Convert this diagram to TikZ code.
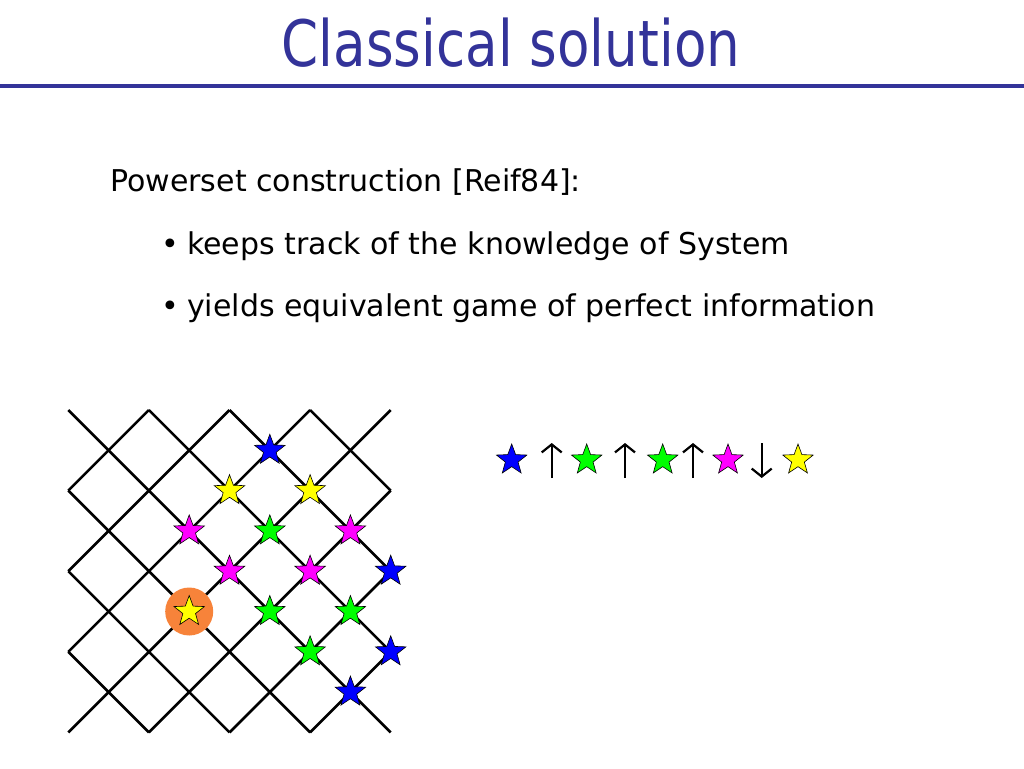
\documentclass[tikz,border=0pt]{standalone}
\usepackage{fontspec}
\setmainfont{DejaVu Sans}
\newfontfamily\titlefont{DejaVu Sans}[FakeStretch=0.83]
\usetikzlibrary{shapes.geometric,arrows.meta}
\definecolor{titleblue}{RGB}{51,51,153}
\definecolor{sblue}{RGB}{0,0,255}
\definecolor{sgreen}{RGB}{0,255,0}
\definecolor{smag}{RGB}{255,0,255}
\definecolor{syellow}{RGB}{255,255,0}
\definecolor{sorange}{RGB}{247,131,58}
\tikzset{
  starfive/.style={star, star points=5, star point ratio=2.4, minimum size=32pt,
    inner sep=0pt, draw=black, line width=0.6pt},
  gridline/.style={line width=2.6pt, black},
  seqarrow/.style={line width=2.2pt, -{Straight Barb[length=8pt,width=20pt]}},
  bodytext/.style={anchor=base west, inner sep=0pt, font=\fontsize{30}{36}\selectfont},
}
\begin{document}
\begin{tikzpicture}[x=1pt,y=-1pt]
\useasboundingbox (0,0) rectangle (1024,768);
\fill[white] (0,0) rectangle (1024,768);
% title
\node[anchor=base, inner sep=0pt, text=titleblue, font=\titlefont\fontsize{64}{70}\selectfont] (title) at (511,66.7) {Classical solution};
\coordinate (ruleL) at (0,85.8);
\coordinate (ruleR) at (1024,85.8);
\draw[titleblue, line width=4pt] (ruleL) -- (ruleR);
% body text
\node[bodytext] (t1) at (110,191.7) {Powerset construction [Reif84]:};
\node[bodytext] (b1) at (161,254) {•};
\node[bodytext] (t2) at (187,254) {keeps track of the knowledge of System};
\node[bodytext] (b2) at (161,316) {•};
\node[bodytext] (t3) at (187,316) {yields equivalent game of perfect information};
% grid
\begin{scope}[xshift=68.3pt, yshift=-410pt, x=40.3pt, y=-40.3pt]
  \foreach \c in {-6,-4,...,6} {
    \pgfmathsetmacro{\xa}{max(0,\c)}
    \pgfmathsetmacro{\ya}{max(0,-\c)}
    \pgfmathsetmacro{\xb}{min(8,8+\c)}
    \pgfmathsetmacro{\yb}{min(8,8-\c)}
    \draw[gridline] (\xa,\ya) -- (\xb,\yb);
  }
  \foreach \d in {2,4,...,14} {
    \pgfmathsetmacro{\xa}{max(0,\d-8)}
    \pgfmathsetmacro{\ya}{min(8,\d)}
    \pgfmathsetmacro{\xb}{min(8,\d)}
    \pgfmathsetmacro{\yb}{max(0,\d-8)}
    \draw[gridline] (\xa,\ya) -- (\xb,\yb);
  }
  \node[circle, fill=sorange, minimum size=48pt, inner sep=0pt] (cur) at (3,5) {};
  \node[starfive, fill=sblue] (g51) at (5,1) {};
  \node[starfive, fill=syellow] (g42) at (4,2) {};
  \node[starfive, fill=syellow] (g62) at (6,2) {};
  \node[starfive, fill=smag] (g33) at (3,3) {};
  \node[starfive, fill=sgreen] (g53) at (5,3) {};
  \node[starfive, fill=smag] (g73) at (7,3) {};
  \node[starfive, fill=smag] (g44) at (4,4) {};
  \node[starfive, fill=smag] (g64) at (6,4) {};
  \node[starfive, fill=sblue] (g84) at (8,4) {};
  \node[starfive, fill=syellow] (g35) at (3,5) {};
  \node[starfive, fill=sgreen] (g55) at (5,5) {};
  \node[starfive, fill=sgreen] (g75) at (7,5) {};
  \node[starfive, fill=sgreen] (g66) at (6,6) {};
  \node[starfive, fill=sblue] (g86) at (8,6) {};
  \node[starfive, fill=sblue] (g77) at (7,7) {};
\end{scope}
% sequence
\node[starfive, fill=sblue] (s1) at (511.7,460) {};
\node[starfive, fill=sgreen] (s2) at (586.7,460) {};
\node[starfive, fill=sgreen] (s3) at (662.7,460) {};
\node[starfive, fill=smag] (s4) at (728,460) {};
\node[starfive, fill=syellow] (s5) at (798,460) {};
\coordinate (a1b) at (551.7,478); \coordinate (a1t) at (551.7,443);
\coordinate (a2b) at (625,478); \coordinate (a2t) at (625,443);
\coordinate (a3b) at (693,478); \coordinate (a3t) at (693,443);
\coordinate (a4t) at (761.7,443); \coordinate (a4b) at (761.7,478);
\draw[seqarrow] (a1b) -- (a1t);
\draw[seqarrow] (a2b) -- (a2t);
\draw[seqarrow] (a3b) -- (a3t);
\draw[seqarrow] (a4t) -- (a4b);
\end{tikzpicture}
\end{document}
